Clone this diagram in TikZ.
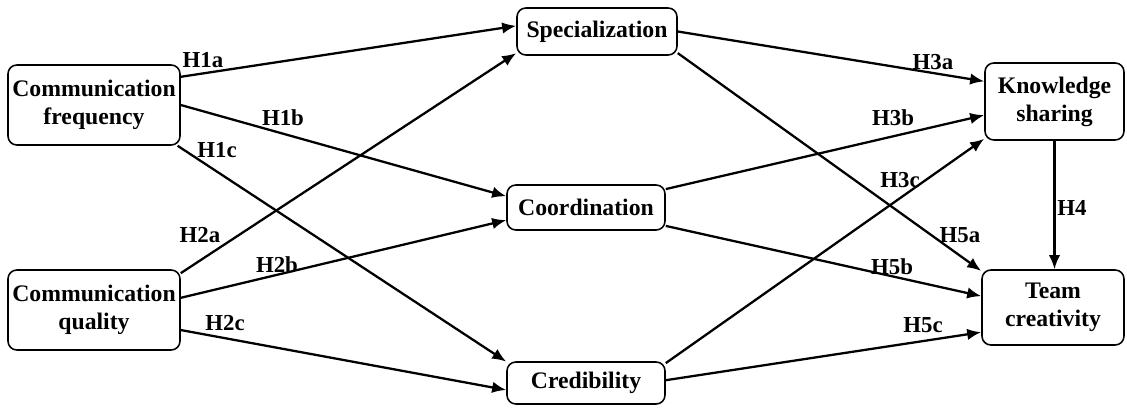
\documentclass[tikz,border=0pt]{standalone}
\usepackage{fontspec}
\setmainfont{Liberation Serif}
\usetikzlibrary{arrows.meta}

\begin{document}
\begin{tikzpicture}[x=0.02cm,y=-0.02cm,
	box/.style={draw,rounded corners=5pt,line width=0.9pt,align=center,inner sep=0pt,
		font=\fontsize{13.5}{16}\selectfont\bfseries},
	hyp/.style={font=\fontsize{13}{15}\selectfont\bfseries,inner sep=0pt},
	link/.style={line width=1.3pt,-{Latex[length=8pt,width=6.5pt]}}]
	\useasboundingbox (0,0) rectangle (1127,408);
	% constructs
	\node[box,minimum width=3.44cm,minimum height=1.6cm] (cf) at (94,105) {Communication\\frequency};
	\node[box,minimum width=3.44cm,minimum height=1.6cm] (cq) at (94,310) {Communication\\quality};
	\node[box,minimum width=3.2cm,minimum height=0.94cm] (spec) at (597,31.5) {Specialization};
	\node[box,minimum width=3.16cm,minimum height=0.9cm] (coord) at (586,207.5) {Coordination};
	\node[box,minimum width=3.16cm,minimum height=0.84cm] (cred) at (586,383) {Credibility};
	\node[box,minimum width=2.78cm,minimum height=1.54cm] (ks) at (1054.5,101.5) {Knowledge\\sharing};
	\node[box,minimum width=2.84cm,minimum height=1.5cm] (tc) at (1053,307.5) {Team\\creativity};
	% paths
	\draw[link] (cf.18.6) -- (spec.176.8);
	\draw[link] (cf.east) -- (coord.172.4);
	\draw[link] (cf.-26) -- (cred.165);
	\draw[link] (cq.23) -- (spec.195);
	\draw[link] (cq.8) -- (coord.189);
	\draw[link] (cq.-13) -- (cred.185);
	\draw[link] (spec.east) -- (ks.164.3);
	\draw[link] (spec.-15) -- (tc.153);
	\draw[link] (coord.13.9) -- (ks.191);
	\draw[link] (coord.-13.9) -- (tc.171.6);
	\draw[link] (cred.14.9) -- (ks.208);
	\draw[link] (cred.2) -- (tc.199);
	\draw[link] (ks.south) -- (tc.north -| ks.south);
	% hypotheses
	\node[hyp] (h1a) at (203,60) {H1a};
	\node[hyp] (h1b) at (283,118) {H1b};
	\node[hyp] (h1c) at (217,150) {H1c};
	\node[hyp] (h2a) at (200,235) {H2a};
	\node[hyp] (h2b) at (277,265) {H2b};
	\node[hyp] (h2c) at (225,323) {H2c};
	\node[hyp] (h3a) at (933,62) {H3a};
	\node[hyp] (h3b) at (893,118) {H3b};
	\node[hyp] (h3c) at (900,180) {H3c};
	\node[hyp] (h4) at (1072,208) {H4};
	\node[hyp] (h5a) at (960,235) {H5a};
	\node[hyp] (h5b) at (892,267) {H5b};
	\node[hyp] (h5c) at (923,325) {H5c};
\end{tikzpicture}
\end{document}
